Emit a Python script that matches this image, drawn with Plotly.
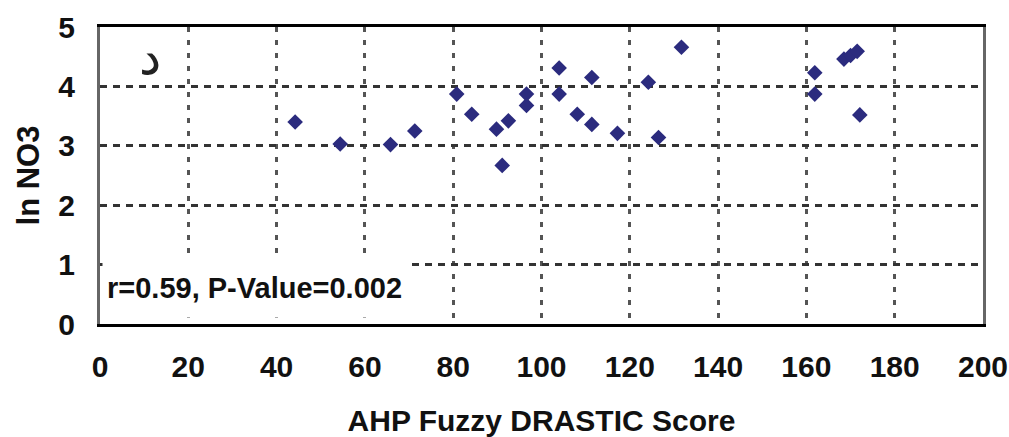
import plotly.graph_objects as go

# Data
drastic_score = [44.2, 54.4, 65.8, 71.3, 80.8, 84.2, 89.8, 92.5, 91.1, 96.6, 96.6,
                 104.0, 104.0, 108.1, 111.4, 111.4, 117.2, 124.2, 126.5, 131.7,
                 161.9, 161.9, 168.5, 170.0, 171.5, 172.1]
ln_no3 = [3.40, 3.03, 3.02, 3.25, 3.87, 3.53, 3.28, 3.42, 2.67, 3.87, 3.68,
          4.31, 3.87, 3.53, 4.15, 3.36, 3.21, 4.07, 3.14, 4.66,
          4.23, 3.87, 4.46, 4.52, 4.59, 3.52]

x_ticks = [0, 20, 40, 60, 80, 100, 120, 140, 160, 180, 200]
y_ticks = [0, 1, 2, 3, 4, 5]

x_title = "AHP Fuzzy DRASTIC Score"
y_title = "ln NO3"
stat_text = "r=0.59, P-Value=0.002"
panel_label = "د"

FONT = "Liberation Sans Narrow, Arial Narrow, Liberation Sans, Arial, sans-serif"

fig = go.Figure()
fig.add_trace(go.Scatter(
    x=drastic_score, y=ln_no3, mode="markers",
    marker=dict(symbol="diamond", size=12, color="#2B2B7E",
                line=dict(width=0)),
    showlegend=False,
))

fig.update_layout(
    width=1009, height=437,
    margin=dict(l=100, r=26, t=27, b=113),
    paper_bgcolor="white", plot_bgcolor="white",
    font=dict(family=FONT, size=30, color="#111", weight="bold"),
    xaxis=dict(
        range=[0, 200], tickvals=x_ticks, ticks="", automargin=False,
        showgrid=True, gridcolor="#555", gridwidth=3, griddash="5px,8px",
        showline=True, linecolor="black", linewidth=3, mirror=True,
        zeroline=False, ticklabelstandoff=14,
        tickfont=dict(family=FONT, size=30, weight="bold"),
        title=dict(text=x_title, standoff=30,
                   font=dict(family=FONT, size=30, weight="bold")),
    ),
    yaxis=dict(
        range=[0, 5], tickvals=y_ticks, ticks="", automargin=False,
        showgrid=True, gridcolor="#333", gridwidth=3, griddash="7px,6px",
        showline=True, linecolor="#666", linewidth=3, mirror=True,
        zeroline=False, ticklabelstandoff=16,
        tickfont=dict(family=FONT, size=30, weight="bold"),
        title=dict(text=y_title, standoff=10,
                   font=dict(family=FONT, size=31, weight="bold")),
    ),
    annotations=[
        dict(text=stat_text, xref="paper", yref="paper",
             x=0.002, y=0.02, xanchor="left", yanchor="bottom",
             showarrow=False, bgcolor="white", borderpad=4,
             width=300, height=50, align="left", valign="middle",
             font=dict(family=FONT, size=29, color="#111", weight="bold")),
        dict(text=panel_label, xref="paper", yref="paper",
             x=0.057, y=0.895, xanchor="center", yanchor="middle",
             showarrow=False,
             font=dict(family="DejaVu Sans, Noto Sans", size=50,
                       color="#222", weight="normal")),
    ],
)

fig.write_html("out.html")
